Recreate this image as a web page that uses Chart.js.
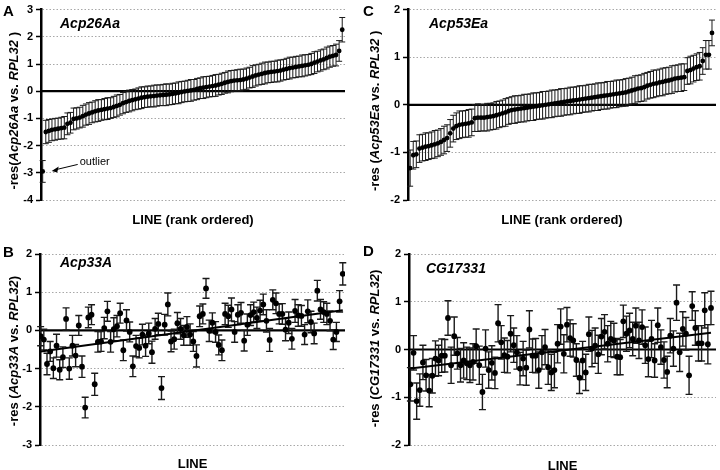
<!DOCTYPE html>
<html>
<head>
<meta charset="utf-8">
<script src="https://cdn.jsdelivr.net/npm/chart.js@4.4.1/dist/chart.umd.min.js"></script>
<style>
  html, body { margin: 0; padding: 0; background: #fff; }
  #wrap { position: relative; width: 720px; height: 470px; }
  .panel { position: absolute; width: 360px; height: 235px; }
  canvas { display: block; }
</style>
</head>
<body>
<div id="wrap">
  <div class="panel" style="left:0;top:0"><canvas id="chartA" width="360" height="235"></canvas></div>
  <div class="panel" style="left:360px;top:0"><canvas id="chartC" width="360" height="235"></canvas></div>
  <div class="panel" style="left:0;top:235px"><canvas id="chartB" width="360" height="235"></canvas></div>
  <div class="panel" style="left:360px;top:235px"><canvas id="chartD" width="360" height="235"></canvas></div>
</div>
<script>
// Panel A: Acp26Aa, lines rank ordered (first one is the outlier)
const acp26Values = [-2.95, -1.50, -1.46, -1.42, -1.40, -1.38, -1.36, -1.34, -1.20, -1.16,
  -1.02, -1.00, -0.97, -0.92, -0.86, -0.82, -0.78, -0.74, -0.71, -0.69,
  -0.66, -0.64, -0.62, -0.58, -0.54, -0.50, -0.44, -0.40, -0.36, -0.33,
  -0.30, -0.27, -0.24, -0.22, -0.20, -0.19, -0.18, -0.16, -0.15, -0.14,
  -0.13, -0.12, -0.10, -0.08, -0.06, -0.03, -0.01, 0.01, 0.03, 0.05,
  0.08, 0.11, 0.13, 0.15, 0.17, 0.19, 0.21, 0.24, 0.27, 0.31,
  0.34, 0.37, 0.39, 0.40, 0.41, 0.43, 0.46, 0.50, 0.54, 0.58,
  0.61, 0.64, 0.67, 0.69, 0.71, 0.72, 0.74, 0.76, 0.79, 0.82,
  0.85, 0.87, 0.89, 0.91, 0.93, 0.95, 0.97, 1.00, 1.05, 1.09,
  1.13, 1.17, 1.22, 1.27, 1.30, 1.33, 1.48, 2.26];
const acp26Errors = [0.40, 0.43, 0.42, 0.40, 0.40, 0.39, 0.40, 0.41, 0.40, 0.38,
  0.40, 0.39, 0.38, 0.40, 0.39, 0.40, 0.38, 0.39, 0.40, 0.38,
  0.39, 0.40, 0.38, 0.39, 0.40, 0.38, 0.39, 0.38, 0.40, 0.39,
  0.38, 0.39, 0.40, 0.38, 0.39, 0.38, 0.40, 0.39, 0.38, 0.39,
  0.40, 0.38, 0.39, 0.38, 0.40, 0.39, 0.38, 0.39, 0.40, 0.38,
  0.39, 0.38, 0.40, 0.39, 0.38, 0.39, 0.40, 0.38, 0.39, 0.38,
  0.40, 0.39, 0.38, 0.39, 0.40, 0.38, 0.39, 0.38, 0.40, 0.39,
  0.38, 0.39, 0.40, 0.38, 0.39, 0.38, 0.40, 0.39, 0.38, 0.39,
  0.40, 0.38, 0.39, 0.38, 0.40, 0.39, 0.38, 0.39, 0.40, 0.38,
  0.39, 0.38, 0.40, 0.39, 0.38, 0.40, 0.38, 0.45];
const acp26Ticks = [-4, 3];

// Panel C: Acp53Ea, rank ordered
const acp53Values = [-1.33, -1.06, -1.04, -0.92, -0.90, -0.88, -0.87, -0.85, -0.83, -0.81,
  -0.78, -0.74, -0.70, -0.60, -0.50, -0.45, -0.42, -0.41, -0.40, -0.39,
  -0.37, -0.28, -0.27, -0.27, -0.27, -0.26, -0.25, -0.24, -0.22, -0.20,
  -0.18, -0.16, -0.13, -0.11, -0.10, -0.09, -0.08, -0.07, -0.06, -0.05,
  -0.04, -0.03, -0.02, -0.01, 0.00, 0.01, 0.02, 0.03, 0.04, 0.05,
  0.06, 0.07, 0.08, 0.09, 0.10, 0.11, 0.12, 0.13, 0.14, 0.15,
  0.16, 0.17, 0.18, 0.19, 0.20, 0.21, 0.22, 0.23, 0.24, 0.25,
  0.26, 0.28, 0.30, 0.32, 0.34, 0.35, 0.37, 0.40, 0.42, 0.44,
  0.45, 0.47, 0.48, 0.50, 0.51, 0.53, 0.55, 0.56, 0.57, 0.58,
  0.71, 0.73, 0.76, 0.79, 0.81, 0.92, 1.05, 1.05, 1.51];
const acp53Errors = [0.38, 0.29, 0.28, 0.29, 0.28, 0.29, 0.28, 0.28, 0.29, 0.28,
  0.28, 0.29, 0.28, 0.29, 0.28, 0.28, 0.29, 0.28, 0.28, 0.29,
  0.28, 0.28, 0.29, 0.28, 0.28, 0.29, 0.28, 0.28, 0.29, 0.28,
  0.28, 0.29, 0.28, 0.28, 0.29, 0.28, 0.28, 0.29, 0.28, 0.28,
  0.29, 0.28, 0.28, 0.29, 0.28, 0.28, 0.29, 0.28, 0.28, 0.29,
  0.28, 0.28, 0.29, 0.28, 0.28, 0.29, 0.28, 0.28, 0.29, 0.28,
  0.28, 0.29, 0.28, 0.28, 0.29, 0.28, 0.28, 0.29, 0.28, 0.28,
  0.29, 0.28, 0.28, 0.29, 0.28, 0.28, 0.29, 0.28, 0.28, 0.29,
  0.28, 0.28, 0.29, 0.28, 0.28, 0.29, 0.28, 0.28, 0.29, 0.28,
  0.28, 0.29, 0.28, 0.28, 0.29, 0.28, 0.30, 0.30, 0.27];
const acp53Ticks = [-2, 2];

// Panel B: Acp33A, lines in original order, with fitted trend
const acp33Values = [-0.15, -0.24, -0.88, -0.55, -0.99, -0.40, -1.03, -0.70, 0.30, -1.00,
  -0.40, -0.66, 0.13, -0.95, -2.02, 0.34, 0.41, -1.41, -0.30, -0.29,
  0.06, 0.50, -0.30, 0.03, 0.11, 0.45, -0.52, 0.26, -0.04, -0.94,
  -0.41, -0.46, -0.11, -0.40, -0.08, -0.57, 0.04, 0.17, -1.51, 0.15,
  0.68, -0.29, -0.23, 0.19, 0.04, -0.13, 0.09, -0.11, -0.29, -0.67,
  0.37, 0.43, 1.10, -0.01, 0.20, -0.04, -0.38, -0.52, 0.43, 0.37,
  0.55, -0.04, 0.41, 0.46, -0.27, 0.15, 0.40, 0.48, 0.33, 0.52,
  0.68, 0.25, -0.25, 0.80, 0.71, 0.43, 0.43, 0.02, 0.20, -0.22,
  0.51, 0.39, 0.38, -0.11, 0.50, 0.22, -0.08, 1.04, 0.55, 0.48,
  0.43, 0.25, -0.24, -0.04, 0.76, 1.48];
const acp33Errors = [0.25, 0.27, 0.28, 0.26, 0.27, 0.30, 0.26, 0.27, 0.29, 0.28,
  0.27, 0.29, 0.26, 0.28, 0.27, 0.27, 0.26, 0.29, 0.27, 0.26,
  0.28, 0.26, 0.27, 0.30, 0.28, 0.26, 0.27, 0.28, 0.26, 0.27,
  0.28, 0.26, 0.27, 0.28, 0.27, 0.29, 0.27, 0.28, 0.30, 0.27,
  0.30, 0.27, 0.26, 0.28, 0.27, 0.26, 0.27, 0.28, 0.26, 0.29,
  0.27, 0.26, 0.26, 0.28, 0.26, 0.27, 0.26, 0.27, 0.28, 0.29,
  0.30, 0.27, 0.26, 0.27, 0.27, 0.28, 0.27, 0.26, 0.28, 0.27,
  0.27, 0.29, 0.30, 0.26, 0.27, 0.26, 0.27, 0.29, 0.28, 0.27,
  0.30, 0.28, 0.27, 0.26, 0.30, 0.28, 0.27, 0.27, 0.26, 0.27,
  0.28, 0.26, 0.26, 0.25, 0.28, 0.29];
const acp33Trend = [-0.55, 0.53];
const acp33Ticks = [-3, 2];

// Panel D: CG17331, lines in original order, with fitted trend
const cg17331Values = [-0.73, -0.07, -1.08, -0.85, -0.27, -0.54, -0.86, -0.55, -0.19, -0.23,
  -0.13, -0.13, 0.66, -0.33, 0.28, -0.08, -0.33, -0.23, -0.29, -0.33,
  -0.26, 0.07, -0.33, -0.89, 0.02, -0.43, -0.28, -0.49, 0.55, 0.15,
  -0.12, -0.15, 0.33, 0.09, -0.06, -0.40, -0.19, -0.38, 0.42, -0.13,
  -0.13, -0.43, -0.06, 0.05, -0.37, -0.48, -0.43, 0.12, 0.48, -0.09,
  0.52, 0.24, 0.19, -0.22, -0.59, -0.23, -0.48, 0.32, 0.02, 0.08,
  -0.10, 0.27, 0.37, 0.12, 0.22, 0.19, -0.15, -0.16, 0.59, 0.33,
  0.40, 0.22, 0.50, 0.19, 0.47, 0.09, -0.20, 0.22, -0.23, 0.51,
  0.05, -0.22, -0.47, 0.29, 0.02, 0.98, -0.06, 0.43, 0.33, -0.54,
  0.91, 0.45, 0.13, 0.13, 0.82, 0.11, 0.87];
const cg17331Errors = [0.35, 0.36, 0.38, 0.34, 0.36, 0.33, 0.34, 0.36, 0.37, 0.32,
  0.35, 0.34, 0.36, 0.38, 0.40, 0.33, 0.35, 0.37, 0.34, 0.36,
  0.38, 0.36, 0.40, 0.37, 0.39, 0.38, 0.36, 0.33, 0.39, 0.35,
  0.36, 0.34, 0.38, 0.36, 0.35, 0.34, 0.36, 0.37, 0.39, 0.35,
  0.36, 0.38, 0.35, 0.37, 0.36, 0.38, 0.37, 0.40, 0.37, 0.40,
  0.36, 0.38, 0.35, 0.34, 0.33, 0.40, 0.38, 0.36, 0.38, 0.37,
  0.40, 0.38, 0.36, 0.38, 0.37, 0.36, 0.38, 0.37, 0.34, 0.37,
  0.36, 0.35, 0.37, 0.38, 0.36, 0.38, 0.37, 0.39, 0.35, 0.36,
  0.36, 0.38, 0.33, 0.36, 0.37, 0.37, 0.40, 0.36, 0.34, 0.40,
  0.30, 0.36, 0.37, 0.37, 0.37, 0.41, 0.35];
const cg17331Trend = [-0.40, 0.35];
const cg17331Ticks = [-2, 2];

const FONT = "'Liberation Sans', Arial, sans-serif";

// draws zero line, error bars, titles and labels for one panel
const makeDecor = (cfg) => ({
  id: "decor",
  beforeDatasetsDraw(chart) {
    const { ctx, chartArea: area, scales: { x, y } } = chart;
    ctx.save();
    const y0 = y.getPixelForValue(0);
    ctx.strokeStyle = "#000";
    ctx.lineWidth = 2.2;
    ctx.beginPath();
    ctx.moveTo(area.left, y0);
    ctx.lineTo(area.right, y0);
    ctx.stroke();

    ctx.strokeStyle = "#1a1a1a";
    ctx.lineWidth = cfg.barWidth;
    const cap = cfg.cap;
    cfg.values.forEach((v, i) => {
      const px = x.getPixelForValue(i + 1);
      const top = y.getPixelForValue(v + cfg.errors[i]);
      const bot = y.getPixelForValue(v - cfg.errors[i]);
      ctx.beginPath();
      ctx.moveTo(px, top); ctx.lineTo(px, bot);
      ctx.moveTo(px - cap, top); ctx.lineTo(px + cap, top);
      ctx.moveTo(px - cap, bot); ctx.lineTo(px + cap, bot);
      ctx.stroke();
    });
    ctx.restore();
  },
  afterDraw(chart) {
    const { ctx, chartArea: area, scales: { x, y } } = chart;
    ctx.save();
    ctx.fillStyle = "#000";

    // panel letter
    ctx.font = "bold 15px " + FONT;
    ctx.textAlign = "left";
    ctx.textBaseline = "alphabetic";
    ctx.fillText(cfg.letter, 3, cfg.letterY);

    // gene name inside plot
    ctx.font = "italic bold 14px " + FONT;
    ctx.fillText(cfg.gene, area.left + cfg.geneDx, area.top + cfg.geneDy);

    // x axis title
    ctx.font = "bold 13px " + FONT;
    ctx.textAlign = "center";
    ctx.textBaseline = "middle";
    ctx.fillText(cfg.xTitle, (area.left + area.right) / 2, area.bottom + cfg.xTitleDy);

    // y axis title with italic gene names
    ctx.translate(cfg.yTitleX, (area.top + area.bottom) / 2 + cfg.yTitleDown);
    ctx.rotate(-Math.PI / 2);
    ctx.textAlign = "left";
    let total = 0;
    cfg.yTitle.forEach(([txt, it]) => {
      ctx.font = (it ? "italic " : "") + "bold 13px " + FONT;
      total += ctx.measureText(txt).width;
    });
    let pos = -total / 2;
    cfg.yTitle.forEach(([txt, it]) => {
      ctx.font = (it ? "italic " : "") + "bold 13px " + FONT;
      ctx.fillText(txt, pos, 0);
      pos += ctx.measureText(txt).width;
    });
    ctx.restore();

    // outlier note
    if (cfg.outlier) {
      const px = x.getPixelForValue(1);
      const py = y.getPixelForValue(cfg.values[0]);
      ctx.save();
      ctx.strokeStyle = "#000";
      ctx.fillStyle = "#000";
      ctx.lineWidth = 1;
      const ax = px + 9, ay = py - 0.5;
      ctx.beginPath();
      ctx.moveTo(px + 35, py - 7);
      ctx.lineTo(ax + 3, ay - 1);
      ctx.stroke();
      ctx.beginPath();
      ctx.moveTo(ax, ay);
      ctx.lineTo(ax + 7, ay - 4.5);
      ctx.lineTo(ax + 5.5, ay + 1.5);
      ctx.closePath();
      ctx.fill();
      ctx.font = "11px " + FONT;
      ctx.textAlign = "left";
      ctx.textBaseline = "middle";
      ctx.fillText(cfg.outlier, px + 37, py - 9);
      ctx.restore();
    }
  }
});

const renderPanel = (canvasId, cfg) => {
  const datasets = [];
  if (cfg.trend) {
    datasets.push({
      type: "line",
      data: [{ x: 1, y: cfg.trend[0] }, { x: cfg.values.length, y: cfg.trend[1] }],
      borderColor: "#000",
      borderWidth: 2,
      pointRadius: 0,
      fill: false
    });
  }
  datasets.push({
    type: "scatter",
    data: cfg.values.map((v, i) => ({ x: i + 1, y: v })),
    pointRadius: cfg.pointRadius,
    pointBackgroundColor: "#000",
    pointBorderWidth: 0
  });

  return new Chart(document.getElementById(canvasId), {
    type: "scatter",
    data: { datasets: datasets },
    options: {
      responsive: false,
      animation: false,
      events: [],
      layout: { padding: cfg.padding },
      plugins: { legend: { display: false }, tooltip: { enabled: false } },
      scales: {
        x: {
          type: "linear",
          display: false,
          min: cfg.xMin,
          max: cfg.values.length + cfg.xExtra
        },
        y: {
          min: cfg.ticks[0],
          max: cfg.ticks[1],
          afterFit: (scale) => { scale.width = cfg.yWidth; },
          ticks: {
            stepSize: 1,
            padding: 3,
            color: "#000",
            font: { family: FONT, size: 11, weight: "bold" }
          },
          grid: {
            color: "#a8a8a8",
            lineWidth: 1,
            drawTicks: true,
            tickLength: 5,
            tickColor: "#000",
            tickWidth: 1.5
          },
          border: { display: true, color: "#000", width: 2.5, dash: [1.5, 2] }
        }
      }
    },
    plugins: [makeDecor(cfg)]
  });
};

renderPanel("chartA", {
  values: acp26Values, errors: acp26Errors, ticks: acp26Ticks,
  letter: "A", letterY: 16, gene: "Acp26Aa", geneDx: 19, geneDy: 18,
  xTitle: "LINE (rank ordered)", xTitleDy: 20, yTitleX: 14, yTitleDown: 6,
  yTitle: [["-res(", false], ["Acp26Aa", true], [" vs. ", false], ["RPL32", true], [" )", false]],
  outlier: "outlier", pointRadius: 2.4, barWidth: 1, cap: 3,
  padding: { left: 0, right: 15, top: 9, bottom: 35 }, yWidth: 41, xMin: 0.45, xExtra: 0.9
});

renderPanel("chartC", {
  values: acp53Values, errors: acp53Errors, ticks: acp53Ticks,
  letter: "C", letterY: 16, gene: "Acp53Ea", geneDx: 21, geneDy: 18,
  xTitle: "LINE (rank ordered)", xTitleDy: 20, yTitleX: 15, yTitleDown: 6,
  yTitle: [["-res (", false], ["Acp53Ea", true], [" vs. ", false], ["RPL32", true], [" )", false]],
  pointRadius: 2.4, barWidth: 1, cap: 3,
  padding: { left: 0, right: 2, top: 9, bottom: 35 }, yWidth: 48, xMin: 0.3, xExtra: 1.3
});

renderPanel("chartB", {
  values: acp33Values, errors: acp33Errors, ticks: acp33Ticks, trend: acp33Trend,
  letter: "B", letterY: 22, gene: "Acp33A", geneDx: 20, geneDy: 13,
  xTitle: "LINE", xTitleDy: 19, yTitleX: 14, yTitleDown: 1.5,
  yTitle: [["-res (", false], ["Acp33A", true], [" vs. ", false], ["RPL32", true], [")", false]],
  pointRadius: 2.9, barWidth: 1.4, cap: 3.5,
  padding: { left: 0, right: 15, top: 19, bottom: 25 }, yWidth: 40, xMin: 0.8, xExtra: 0.7
});

renderPanel("chartD", {
  values: cg17331Values, errors: cg17331Errors, ticks: cg17331Ticks, trend: cg17331Trend,
  letter: "D", letterY: 21, gene: "CG17331", geneDx: 17, geneDy: 19,
  xTitle: "LINE", xTitleDy: 21, yTitleX: 15, yTitleDown: -1,
  yTitle: [["-res (", false], ["CG17331", true], [" vs. ", false], ["RPL32", true], [")", false]],
  pointRadius: 2.9, barWidth: 1.4, cap: 3.5,
  padding: { left: 0, right: 3, top: 19, bottom: 25 }, yWidth: 49, xMin: 0.55, xExtra: 1.6
});
</script>
</body>
</html>
